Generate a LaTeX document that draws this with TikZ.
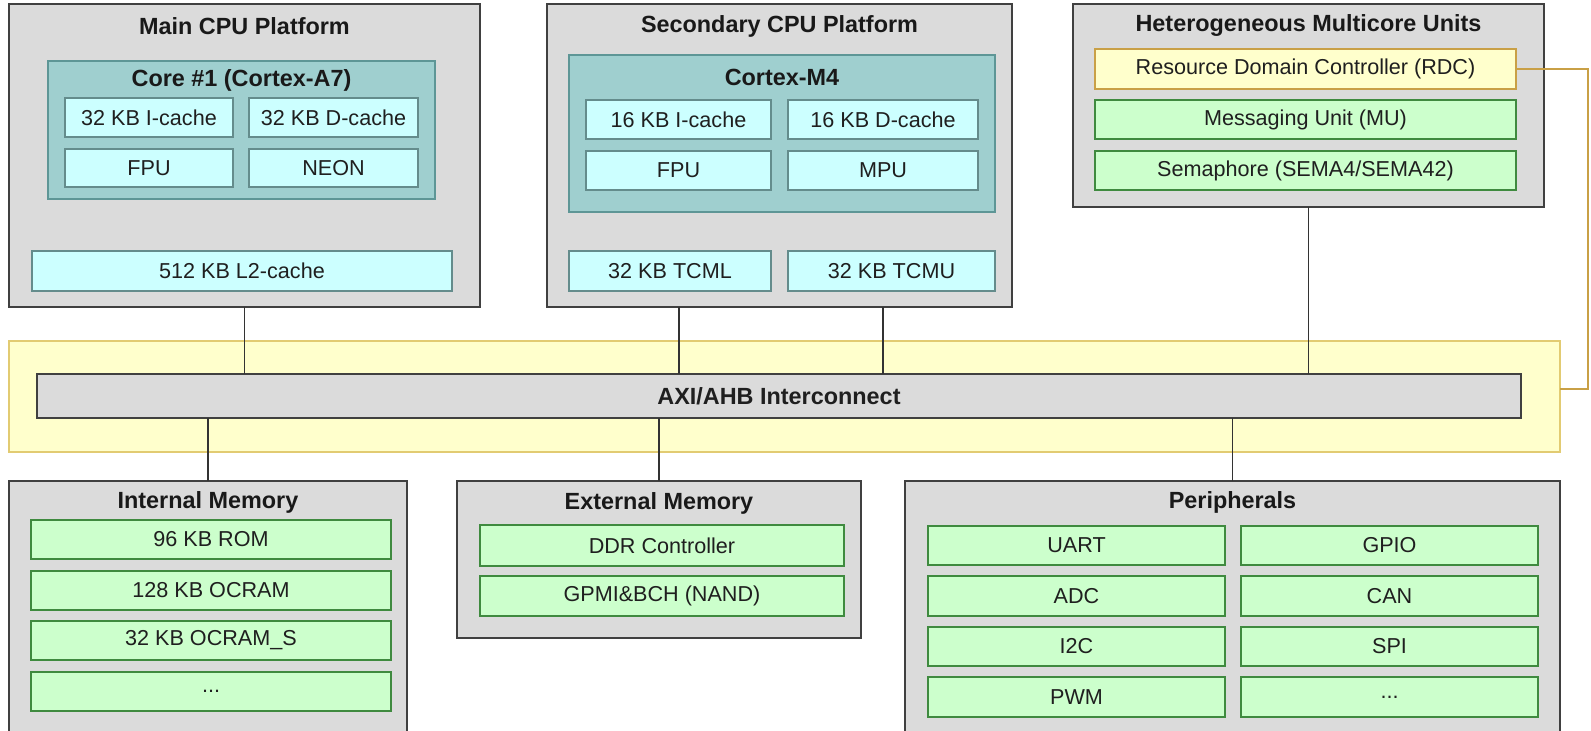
\documentclass[tikz,border=0pt]{standalone}
\usepackage{fontspec}
\setmainfont{Liberation Sans}
\definecolor{grayfill}{HTML}{DBDBDB}
\definecolor{grayline}{HTML}{404040}
\definecolor{tealfill}{HTML}{9FCFCF}
\definecolor{tealline}{HTML}{5E9696}
\definecolor{cyanfill}{HTML}{CCFFFF}
\definecolor{cyanline}{HTML}{648C8C}
\definecolor{greenfill}{HTML}{CCFFCC}
\definecolor{greenline}{HTML}{3F8A3F}
\definecolor{yelfill}{HTML}{FFFFCC}
\definecolor{yelline}{HTML}{E2CB72}
\definecolor{goldline}{HTML}{C9A046}
\newcommand{\mkbox}[7]{\node[#2, minimum width={(#5-#3)*1pt}, minimum height={(#6-#4)*1pt}] (#1) at ({(#3+#5)/2},{(#4+#6)/2}) {#7};}
\tikzset{
  base/.style={inner sep=0pt, outer sep=0pt, font=\fontsize{21.6}{24}\selectfont, text=black!88},
  outerbox/.style={base, draw=grayline, fill=grayfill, line width=1.6pt},
  corebox/.style={base, draw=tealline, fill=tealfill, line width=1.3pt},
  cyanbox/.style={base, draw=cyanline, fill=cyanfill, line width=1.2pt},
  greenbox/.style={base, draw=greenline, fill=greenfill, line width=1.2pt},
  rdcbox/.style={base, draw=goldline, fill=yelfill, line width=1.2pt},
  yelbox/.style={base, draw=yelline, fill=yelfill, line width=1.2pt},
  busbox/.style={base, draw=grayline, fill=grayfill, line width=1.6pt, font=\fontsize{23.4}{26}\selectfont\bfseries},
  ttl/.style={inner sep=0pt, font=\fontsize{23.4}{26}\selectfont\bfseries, text=black!90},
  wire/.style={draw=black!80, line width=1.5pt},
  goldwire/.style={draw=goldline, line width=1.4pt}
}
\begin{document}
\begin{tikzpicture}[x=1pt,y=-1pt]
\useasboundingbox (0,0) rectangle (1591,731);
\clip (0,0) rectangle (1591,731);
% Main CPU Platform
\mkbox{main}{outerbox}{9}{4}{480}{307}{}
\node[ttl] (maint) at (244.5,26) {Main CPU Platform};
\mkbox{core}{corebox}{48}{61}{435}{199}{}
\node[ttl] (coret) at (241.5,80) {Core \#1 (Cortex-A7)};
\mkbox{ic1}{cyanbox}{65}{98}{233}{137}{32 KB I-cache}
\mkbox{dc1}{cyanbox}{249}{98}{418}{137}{32 KB D-cache}
\mkbox{fpu1}{cyanbox}{65}{149}{233}{187}{FPU}
\mkbox{neon}{cyanbox}{249}{149}{418}{187}{NEON}
\mkbox{l2}{cyanbox}{32}{251}{452}{291}{512 KB L2-cache}
% Secondary CPU Platform
\mkbox{sec}{outerbox}{547}{4}{1012}{307}{}
\node[ttl] (sect) at (779.5,26) {Secondary CPU Platform};
\mkbox{m4}{corebox}{569}{55}{995}{212}{}
\node[ttl] (m4t) at (782,77) {Cortex-M4};
\mkbox{ic2}{cyanbox}{586}{100}{771}{139}{16 KB I-cache}
\mkbox{dc2}{cyanbox}{788}{100}{978}{139}{16 KB D-cache}
\mkbox{fpu2}{cyanbox}{586}{151}{771}{190}{FPU}
\mkbox{mpu}{cyanbox}{788}{151}{978}{190}{MPU}
\mkbox{tcml}{cyanbox}{569}{251}{771}{291}{32 KB TCML}
\mkbox{tcmu}{cyanbox}{788}{251}{995}{291}{32 KB TCMU}
% Heterogeneous Multicore Units
\mkbox{het}{outerbox}{1073}{4}{1544}{207}{}
\node[ttl] (hett) at (1308.5,26) {Heterogeneous Multicore Units};
\mkbox{rdc}{rdcbox}{1095}{49}{1516}{89}{Resource Domain Controller (RDC)}
\mkbox{mu}{greenbox}{1095}{100}{1516}{139}{Messaging Unit (MU)}
\mkbox{sema}{greenbox}{1095}{151}{1516}{190}{Semaphore (SEMA4/SEMA42)}
% Interconnect
\mkbox{yel}{yelbox}{9}{341}{1560}{452}{}
\mkbox{bus}{busbox}{37}{374}{1521}{418}{AXI/AHB Interconnect}
% Internal Memory
\mkbox{intm}{outerbox}{9}{481}{407}{760}{}
\node[ttl] (intmt) at (208,502) {Internal Memory};
\mkbox{rom}{greenbox}{31}{520}{391}{559}{96 KB ROM}
\mkbox{ocram}{greenbox}{31}{571}{391}{610}{128 KB OCRAM}
\mkbox{ocrams}{greenbox}{31}{621}{391}{660}{32 KB OCRAM\_S}
\mkbox{imore}{greenbox}{31}{672}{391}{711}{...}
% External Memory
\mkbox{extm}{outerbox}{457}{481}{861}{638}{}
\node[ttl] (extmt) at (659,503) {External Memory};
\mkbox{ddr}{greenbox}{480}{525}{844}{566}{DDR Controller}
\mkbox{gpmi}{greenbox}{480}{576}{844}{616}{GPMI\&BCH (NAND)}
% Peripherals
\mkbox{peri}{outerbox}{905}{481}{1560}{760}{}
\node[ttl] (perit) at (1232.5,502) {Peripherals};
\mkbox{uart}{greenbox}{928}{526}{1225}{565}{UART}
\mkbox{gpio}{greenbox}{1241}{526}{1538}{565}{GPIO}
\mkbox{adc}{greenbox}{928}{576}{1225}{616}{ADC}
\mkbox{can}{greenbox}{1241}{576}{1538}{616}{CAN}
\mkbox{iic}{greenbox}{928}{627}{1225}{666}{I2C}
\mkbox{spi}{greenbox}{1241}{627}{1538}{666}{SPI}
\mkbox{pwm}{greenbox}{928}{677}{1225}{717}{PWM}
\mkbox{pmore}{greenbox}{1241}{677}{1538}{717}{...}
% Connectors
\coordinate (s1) at (679,307);
\coordinate (s2) at (883,307);
\draw[wire] (main.south) -- (main.south |- bus.north);
\draw[wire] (s1) -- (s1 |- bus.north);
\draw[wire] (s2) -- (s2 |- bus.north);
\draw[wire] (het.south) -- (het.south |- bus.north);
\draw[wire] (bus.south -| intm.north) -- (intm.north);
\draw[wire] (bus.south -| extm.north) -- (extm.north);
\draw[wire] (bus.south -| peri.north) -- (peri.north);
\coordinate (rc1) at (1588,69);
\coordinate (rc2) at (1588,389);
\draw[goldwire] (rdc.east) -- (rc1) -- (rc2) -- (rc2 -| yel.east);
\end{tikzpicture}
\end{document}
